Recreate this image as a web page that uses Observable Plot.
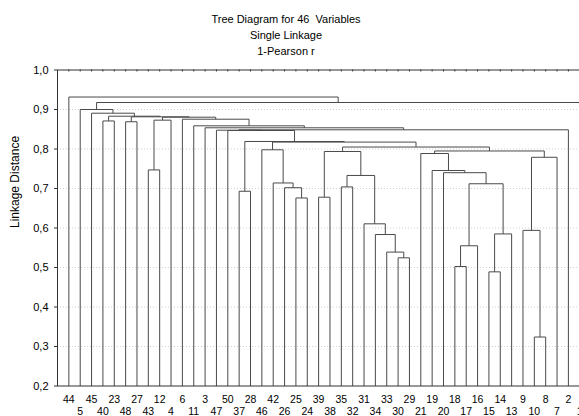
<!DOCTYPE html>
<html><head><meta charset="utf-8">
<script src="https://cdn.jsdelivr.net/npm/d3@7"></script>
<script src="https://cdn.jsdelivr.net/npm/@observablehq/plot@0.6"></script>
<style>
html,body{margin:0;padding:0;background:#fff;overflow:hidden}
#wrap{position:relative;width:579px;height:416px;overflow:hidden;font-family:"Liberation Sans",Arial,sans-serif}
#title{position:absolute;left:0;width:572px;top:11px;text-align:center;font-size:11px;line-height:16px;color:#000;z-index:2}
#chart{position:absolute;left:0;top:0;width:600px;height:416px}
#chart svg{max-width:none !important;width:600px;height:416px}
</style></head><body>
<div id="wrap"><div id="title"></div><div id="chart"></div></div>
<script>
const titleLines = ["Tree Diagram for 46  Variables", "Single Linkage", "1-Pearson r"];
const yLabel = "Linkage Distance";
const leafLabels = [44,5,45,40,23,48,27,43,12,4,6,11,3,47,50,37,28,46,42,26,25,24,39,38,35,32,31,34,33,30,29,21,19,20,18,17,16,15,14,13,9,10,8,7,2,1];
const yTicks = [0.2,0.3,0.4,0.5,0.6,0.7,0.8,0.9,1.0];
const gridTicks = [0.3,0.4,0.5,0.6,0.7,0.8,0.9];
// merges in order: child A, child B ("mN" = merge N), linkage distance
const mergeA = ["10","15","18","30","33","m3","34","m2","9","31","25","39","37","26","35","m6","42","m15","20","43","19","m9","21","m12","m23","46","m24","m26","m13","50","47","m31","3","11","48","40","m20","6","m37","m35","m36","45","5","m43","44"];
const mergeB = ["8","14","17","29","m4","16","m5","13","m1","m7","24","38","28","m11","32","m8","m14","m10","m16","12","m19","7","m21","m18","m22","m17","m25","m27","m28","m29","m30","2","m32","m33","27","23","4","m34","m38","m39","m40","m41","m42","1","m44"];
const mergeH = [0.324,0.489,0.5025,0.5245,0.539,0.555,0.5835,0.585,0.594,0.6106,0.676,0.678,0.693,0.702,0.704,0.712,0.714,0.733,0.740,0.747,0.7456,0.779,0.7886,0.7937,0.795,0.798,0.805,0.8175,0.819,0.8468,0.8476,0.8486,0.8537,0.8587,0.869,0.871,0.873,0.8754,0.8805,0.8815,0.883,0.8906,0.900,0.9177,0.9316];

document.getElementById("title").innerHTML = titleLines.map(t => `<div style="white-space:pre">${t}</div>`).join("");

const pos = new Map();
leafLabels.forEach((l, i) => pos.set(String(l), {x: i, h: 0.2}));
const segs = [];
mergeA.forEach((a, k) => {
  const A = pos.get(a), B = pos.get(mergeB[k]), h = mergeH[k];
  segs.push({x1: A.x, y1: A.h, x2: A.x, y2: h});
  segs.push({x1: A.x, y1: h, x2: B.x, y2: h});
  segs.push({x1: B.x, y1: B.h, x2: B.x, y2: h});
  pos.set("m" + (k + 1), {x: (A.x + B.x) / 2, h});
});
const leaves = leafLabels.map((l, i) => ({label: String(l), i}));

const plot = Plot.plot({
  width: 600, height: 416,
  marginLeft: 57, marginRight: 9.4, marginTop: 69.5, marginBottom: 30.5,
  x: {domain: [-1, 46], axis: null},
  y: {domain: [0.2, 1.0], axis: null},
  style: {fontFamily: "Liberation Sans, Arial, sans-serif", fontSize: "11px", background: "white", color: "#000", maxWidth: "none"},
  marks: [
    Plot.ruleY(gridTicks, {stroke: "#cfcfcf", strokeDasharray: "1,2", strokeWidth: 1}),
    Plot.link(segs, {x1: "x1", y1: "y1", x2: "x2", y2: "y2", stroke: "#4a4a4a", strokeWidth: 1}),
    Plot.ruleX(leaves, {x: "i", y1: 1.0, y2: 0.995, stroke: "#333"}),
    Plot.frame({stroke: "#333"}),
    Plot.axisY(yTicks, {tickFormat: d => d.toFixed(1).replace(".", ","), tickSize: 3, tickPadding: 6, label: null, fontSize: 11, stroke: "#333"}),
    Plot.text(leaves.filter(d => d.i % 2 === 0), {x: "i", y: 0.2, text: "label", dy: 14, fontSize: 10.5, lineAnchor: "middle"}),
    Plot.text(leaves.filter(d => d.i % 2 === 1), {x: "i", y: 0.2, text: "label", dy: 25.5, fontSize: 10.5, lineAnchor: "middle"}),
    Plot.text([yLabel], {frameAnchor: "left", text: d => d, rotate: -90, dx: -42, fontSize: 12, lineAnchor: "middle"})
  ]
});
plot.style.maxWidth = "none";
document.getElementById("chart").appendChild(plot);
</script>
</body></html>
